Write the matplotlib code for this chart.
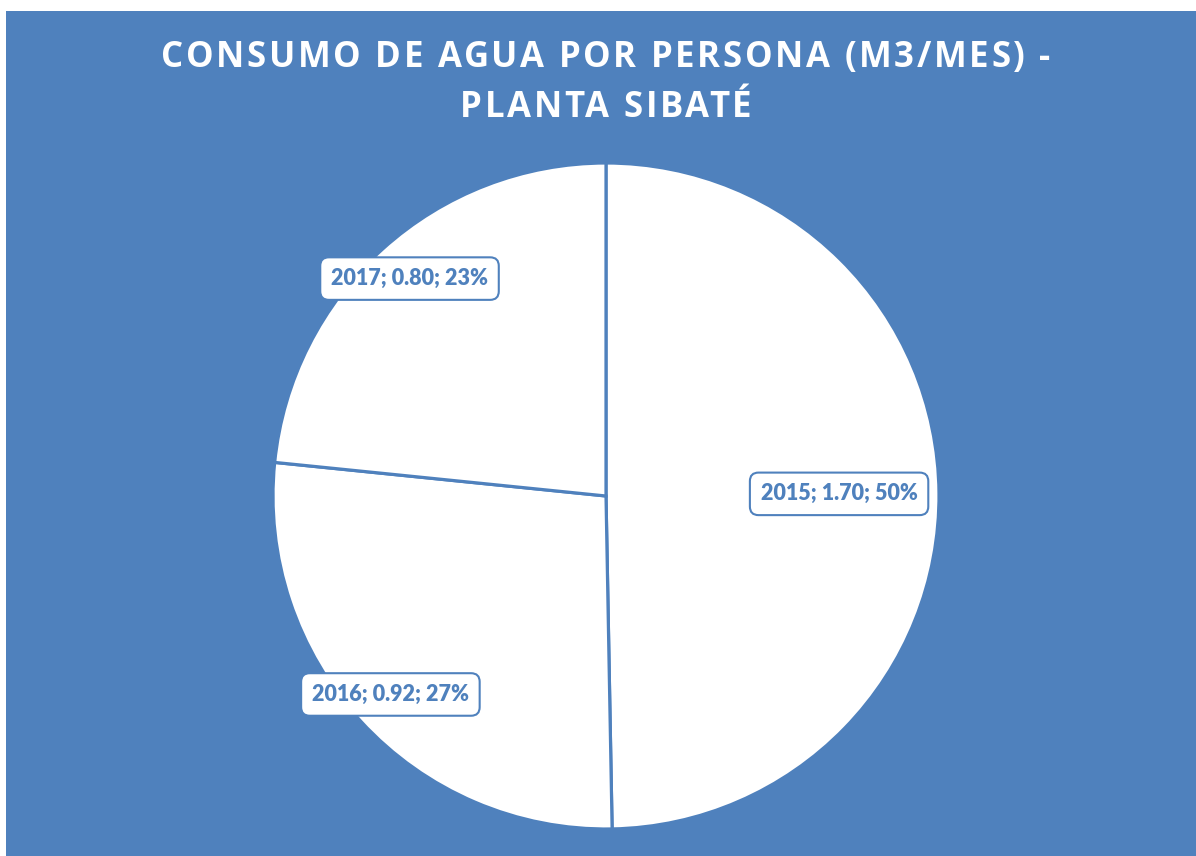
import matplotlib
matplotlib.use("Agg")
import matplotlib.pyplot as plt
import numpy as np
from matplotlib.patches import Rectangle

years = ["2015", "2016", "2017"]
values = [1.70, 0.92, 0.80]
title_lines = ["CONSUMO DE AGUA POR PERSONA (M3/MES) -", "PLANTA SIBATÉ"]
label_dist = [0.70, 0.88, 0.88]

BLUE = "#4F81BD"
W, H = 1196, 856
fig = plt.figure(figsize=(W / 100, H / 100), dpi=100)
fig.patch.set_facecolor("white")
fig.add_artist(Rectangle((6 / W, 0), 1 - 6 / W, 1 - 11 / H, transform=fig.transFigure,
                         facecolor=BLUE, edgecolor="none", zorder=0))

ax = fig.add_axes([0, 0, 1, 1])
ax.patch.set_alpha(0)

cx, cy, r = 606, H - 496, 333
wedges, _ = ax.pie(values, colors=["white"] * 3, startangle=90, counterclock=False,
                   center=(cx, cy), radius=r, frame=True,
                   wedgeprops=dict(edgecolor=BLUE, linewidth=2.3))
ax.set_xlim(0, W)
ax.set_ylim(0, H)
ax.set_aspect("equal")
ax.axis("off")

total = sum(values)
for w, yr, v, d in zip(wedges, years, values, label_dist):
    ang = np.deg2rad((w.theta1 + w.theta2) / 2)
    x = cx + d * r * np.cos(ang)
    y = cy + d * r * np.sin(ang)
    ax.text(x, y, f"{yr}; {v:.2f}; {round(v / total * 100):.0f}%", ha="center", va="center",
            fontsize=15.5, fontweight="heavy", color=BLUE, family=["Lato", "DejaVu Sans"],
            bbox=dict(boxstyle="round,pad=0.5,rounding_size=0.4", facecolor="white",
                      edgecolor=BLUE, linewidth=1.5))

# letter-spaced title
fig.canvas.draw()
renderer = fig.canvas.get_renderer()
tprops = dict(color="white", fontsize=25, fontweight="bold", family=["Open Sans", "DejaVu Sans"])
spacing = 2.7
baselines = [67, 117]


def text_w(s):
    t = fig.text(0, 0, s, **tprops)
    bb = t.get_window_extent(renderer)
    t.remove()
    return bb.width


for line, yb in zip(title_lines, baselines):
    n = len(line)
    total_w = text_w(line) + spacing * (n - 1)
    x0 = 606 - total_w / 2
    for i, ch in enumerate(line):
        if ch == " ":
            continue
        pos = text_w(line[:i + 1]) - text_w(ch) + spacing * i
        fig.text((x0 + pos) / W, 1 - yb / H, ch, ha="left", va="baseline", **tprops)

fig.savefig("out.png", dpi=100, facecolor=fig.get_facecolor())
